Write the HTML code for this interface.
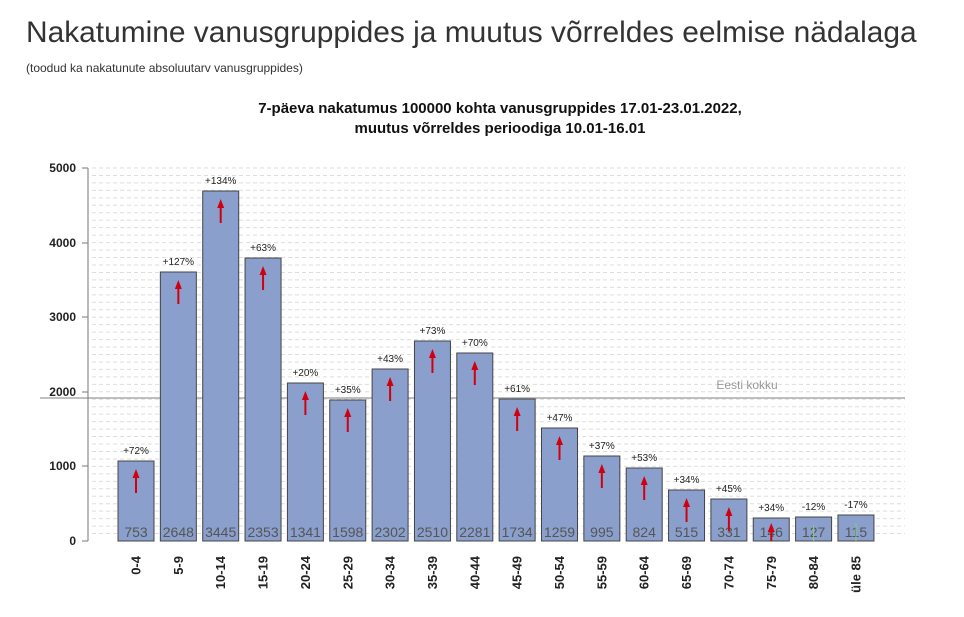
<!DOCTYPE html>
<html><head><meta charset="utf-8"><style>
body{margin:0;background:#fff;width:964px;height:612px;overflow:hidden;font-family:"Liberation Sans",sans-serif}
</style></head><body>
<svg width="964" height="612" xmlns="http://www.w3.org/2000/svg" font-family="Liberation Sans, sans-serif">
<text x="26" y="42" font-size="29.9" fill="#333">Nakatumine vanusgruppides ja muutus võrreldes eelmise nädalaga</text>
<text x="26" y="72" font-size="12" fill="#333">(toodud ka nakatunute absoluutarv vanusgruppides)</text>
<text x="500" y="113" font-size="15" font-weight="bold" text-anchor="middle" fill="#111">7-päeva nakatumus 100000 kohta vanusgruppides 17.01-23.01.2022,</text>
<text x="500" y="133" font-size="15" font-weight="bold" text-anchor="middle" fill="#111">muutus võrreldes perioodiga 10.01-16.01</text>
<g id="grid"></g>
<line x1="40" y1="398" x2="905" y2="398" stroke="#aaa" stroke-width="1.5"/>
<text x="747" y="389" font-size="12" fill="#999" text-anchor="middle">Eesti kokku</text>
<line x1="88" y1="168" x2="88" y2="541" stroke="#777"/>
<g font-size="12" font-weight="bold" fill="#222" text-anchor="end">
<line x1="82" y1="168" x2="88" y2="168" stroke="#777"/><text x="76" y="172">5000</text>
<line x1="82" y1="243" x2="88" y2="243" stroke="#777"/><text x="76" y="247">4000</text>
<line x1="82" y1="317" x2="88" y2="317" stroke="#777"/><text x="76" y="321">3000</text>
<line x1="82" y1="392" x2="88" y2="392" stroke="#777"/><text x="76" y="396">2000</text>
<line x1="82" y1="466" x2="88" y2="466" stroke="#777"/><text x="76" y="470">1000</text>
<line x1="82" y1="541" x2="88" y2="541" stroke="#777"/><text x="76" y="545">0</text>
</g>
<g id="bars"></g>
</svg>
<script>
var g=document.getElementById('grid'),s='';
for(var v=100;v<=5000;v+=100){var y=541-v*0.0746;s+='<line x1="92" y1="'+y+'" x2="905" y2="'+y+'" stroke="#ddd" stroke-dasharray="4,3"/>';}
g.innerHTML=s;
var d=[["0-4",461,"+72%",753],["5-9",272,"+127%",2648],["10-14",191,"+134%",3445],["15-19",258,"+63%",2353],["20-24",383,"+20%",1341],["25-29",400,"+35%",1598],["30-34",369,"+43%",2302],["35-39",341,"+73%",2510],["40-44",353,"+70%",2281],["45-49",399,"+61%",1734],["50-54",428,"+47%",1259],["55-59",456,"+37%",995],["60-64",468,"+53%",824],["65-69",490,"+34%",515],["70-74",499,"+45%",331],["75-79",518,"+34%",146],["80-84",517,"-12%",127],["üle 85",515,"-17%",115]];
s='';
for(var i=0;i<d.length;i++){var x=118+i*42.35,t=d[i][1],cx=x+18;
s+='<rect x="'+x+'" y="'+t+'" width="36" height="'+(541-t)+'" fill="#8a9fcb" stroke="#444" stroke-width="1"/>';
s+='<text x="'+cx+'" y="'+(t-7)+'" font-size="10" text-anchor="middle" fill="#222">'+d[i][2]+'</text>';
s+='<text x="'+cx+'" y="537" font-size="14" text-anchor="middle" fill="#555">'+d[i][3]+'</text>';
if(i<16){var a1=Math.min(t+8,523),a2=Math.min(t+32,541);
s+='<line x1="'+cx+'" y1="'+(a1+8)+'" x2="'+cx+'" y2="'+a2+'" stroke="#d00010" stroke-width="2"/><polygon points="'+(cx-3.5)+','+(a1+9)+' '+(cx+3.5)+','+(a1+9)+' '+cx+','+a1+'" fill="#d00010"/>';}
else{s+='<line x1="'+cx+'" y1="'+(t+8)+'" x2="'+cx+'" y2="541" stroke="#8c8" stroke-width="1"/>';}
s+='<text transform="translate('+(cx+4.5)+',556) rotate(-90)" font-size="13" font-weight="bold" text-anchor="end" fill="#222">'+d[i][0]+'</text>';}
document.getElementById('bars').innerHTML=s;
</script>
</body></html>
